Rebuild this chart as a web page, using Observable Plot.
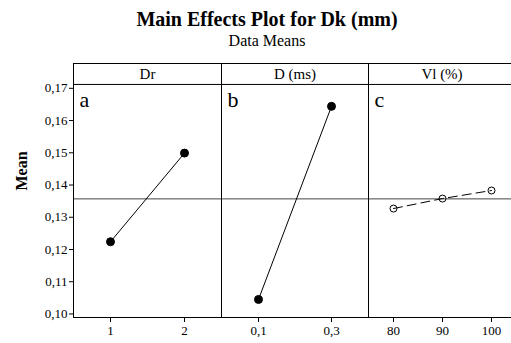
<!DOCTYPE html>
<html>
<head>
<meta charset="utf-8">
<script src="https://cdn.jsdelivr.net/npm/d3@7"></script>
<script src="https://cdn.jsdelivr.net/npm/@observablehq/plot@0.6"></script>
<style>
  html, body { margin: 0; padding: 0; background: white; }
  body { width: 511px; height: 343px; overflow: hidden; position: relative; font-family: "Liberation Serif", "Times New Roman", serif; }
  #head { position: relative; height: 63px; }
  #title { position: absolute; left: 267px; top: 8.5px; transform: translateX(-50%); white-space: nowrap;
           font-size: 20px; line-height: 20px; font-weight: bold; color: black; }
  #subtitle { position: absolute; left: 267px; top: 32.5px; transform: translateX(-50%); white-space: nowrap;
              font-size: 16px; line-height: 16px; color: black; }
  #panels { display: flex; flex-direction: row; width: 600px; }
  #panels svg { display: block; flex: none; max-width: none; }
</style>
</head>
<body>
<div id="head">
  <div id="title">Main Effects Plot for Dk (mm)</div>
  <div id="subtitle">Data Means</div>
</div>
<div id="panels"></div>
<script>
// Factors, their levels and the mean response at each level
const factors = ["Dr", "D (ms)", "Vl (%)"];
const panelLetters = ["a", "b", "c"];
const drLevels = [1, 2];
const drMeans = [0.1224, 0.1499];
const dLevels = [0.1, 0.3];
const dMeans = [0.1045, 0.1644];
const vlLevels = [80, 90, 100];
const vlMeans = [0.1327, 0.1358, 0.1383];
const grandMean = 0.1357;

// Y axis: tick values and the extent of the data area and header strip
const yTicks = [0.10, 0.11, 0.12, 0.13, 0.14, 0.15, 0.16, 0.17];
const yBottom = 0.0989;
const yAreaTop = 0.1712;
const yHeaderTop = 0.1777;

const comma = d => String(d).replace(".", ",");
const fmtY = d => d.toFixed(2).replace(".", ",");

const panels = [
  {factor: factors[0], letter: panelLetters[0], levels: drLevels, means: drMeans, open: false, first: true, width: 221},
  {factor: factors[1], letter: panelLetters[1], levels: dLevels, means: dMeans, open: false, first: false, width: 147},
  {factor: factors[2], letter: panelLetters[2], levels: vlLevels, means: vlMeans, open: true, first: false, width: 147}
];

const container = document.getElementById("panels");

for (const p of panels) {
  const rows = p.levels.map((level, i) => ({level, mean: p.means[i]}));
  const chart = Plot.plot({
    width: p.width,
    height: 280,
    marginTop: 0,
    marginBottom: 26,
    marginLeft: p.first ? 73 : 0,
    marginRight: 0,
    style: "font-family: 'Liberation Serif', 'Times New Roman', serif; font-size: 13px; background: white; color: black;",
    x: {type: "point", domain: p.levels, padding: 0.5, label: null, axis: null},
    y: {domain: [yBottom, yHeaderTop], label: null, axis: null},
    marks: [
      Plot.ruleY([grandMean], {stroke: "#444", strokeWidth: 1}),
      Plot.ruleY([yAreaTop], {stroke: "black", strokeWidth: 1}),
      Plot.frame({stroke: "black", strokeWidth: 1}),
      Plot.axisX({tickSize: 5, tickPadding: 3, tickFormat: comma, fontSize: 13, stroke: "black", fill: "black", label: null}),
      ...(p.first ? [
        Plot.axisY({ticks: yTicks, tickFormat: fmtY, tickSize: 4, tickPadding: 2, fontSize: 13, stroke: "black", fill: "black", label: null}),
        Plot.text(["Mean"], {frameAnchor: "left", dx: -52, rotate: -90, fontSize: 16, fontWeight: "bold", fill: "black"})
      ] : []),
      Plot.text([p.factor], {frameAnchor: "top", dy: 10.5, lineAnchor: "middle", fontSize: 15, fill: "black"}),
      Plot.text([p.letter], {y: () => yAreaTop, frameAnchor: "left", textAnchor: "start", lineAnchor: "top", dx: 6, dy: 7, fontSize: 22, fill: "black"}),
      Plot.line(rows, {x: "level", y: "mean", stroke: "black", strokeWidth: 1, strokeDasharray: p.open ? "9,5" : null}),
      Plot.dot(rows, {x: "level", y: "mean", r: p.open ? 3.5 : 4, fill: p.open ? "none" : "black", stroke: "black", strokeWidth: 1})
    ]
  });
  container.appendChild(chart);
}
</script>
</body>
</html>
